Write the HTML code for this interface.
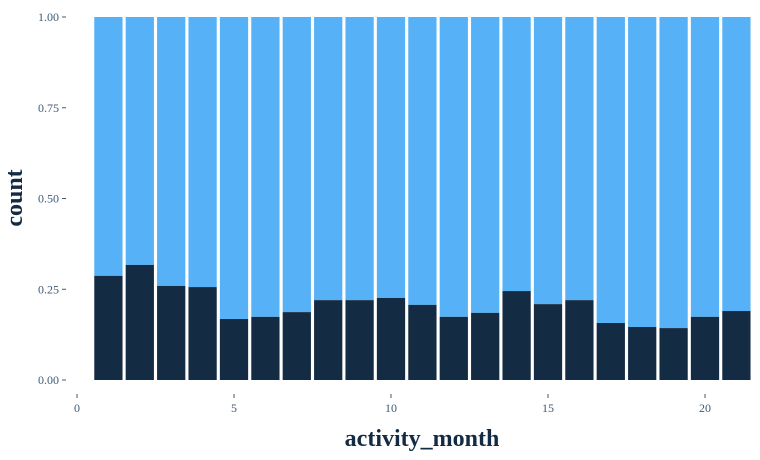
<!DOCTYPE html>
<html><head><meta charset="utf-8"><style>
body{margin:0;background:#fff;}
svg{display:block;font-family:"Liberation Serif",serif;}
</style></head><body>
<svg id="chart" width="760" height="460" viewBox="0 0 760 460"></svg>
<script>
const categories=[1,2,3,4,5,6,7,8,9,10,11,12,13,14,15,16,17,18,19,20,21];
const darkShare=[0.287,0.317,0.259,0.256,0.168,0.174,0.187,0.220,0.220,0.226,0.207,0.174,0.185,0.245,0.209,0.220,0.157,0.146,0.143,0.174,0.190];
const xTicks=[0,5,10,15,20];
const yTicks=[0,0.25,0.5,0.75,1];
const yTickLabels=["0.00","0.25","0.50","0.75","1.00"];
const NS="http://www.w3.org/2000/svg";
const svg=document.getElementById('chart');
const x=v=>77+v*31.4;
const y=v=>380-v*363;
function mk(t,a){const e=document.createElementNS(NS,t);for(const k in a)e.setAttribute(k,a[k]);svg.appendChild(e);return e;}
const bw=0.9*31.4;
categories.forEach((c,i)=>{
  const top=mk('rect',{x:x(c)-bw/2,y:y(1),width:bw,height:y(darkShare[i])-y(1),fill:'#56B1F7'});
  
  
  const b=mk('rect',{x:x(c)-bw/2,y:y(darkShare[i]),width:bw,height:y(0)-y(darkShare[i]),fill:'#132B43'});
  
  
});
yTicks.forEach((v,i)=>{
  const l=mk('line',{x1:62,x2:66,y1:y(v),y2:y(v),stroke:'#3d5a78','stroke-width':1});
  
  
  const t=mk('text',{x:59,y:y(v)+4,'text-anchor':'end','font-size':12,fill:'#3d5a78'});
  t.textContent=yTickLabels[i];
  
  
});
xTicks.forEach(v=>{
  const l=mk('line',{x1:x(v),x2:x(v),y1:394,y2:398,stroke:'#3d5a78','stroke-width':1});
  
  
  const t=mk('text',{x:x(v),y:412,'text-anchor':'middle','font-size':12,fill:'#3d5a78'});
  t.textContent=v;
  
  
});
const xt=mk('text',{x:422,y:446,'text-anchor':'middle','font-size':24,'font-weight':'bold',fill:'#132B43'});
xt.textContent='activity_month';


const yt=mk('text',{x:0,y:0,transform:'translate(22,198) rotate(-90)','text-anchor':'middle','font-size':24,'font-weight':'bold',fill:'#132B43'});
yt.textContent='count';


</script>
</body></html>
